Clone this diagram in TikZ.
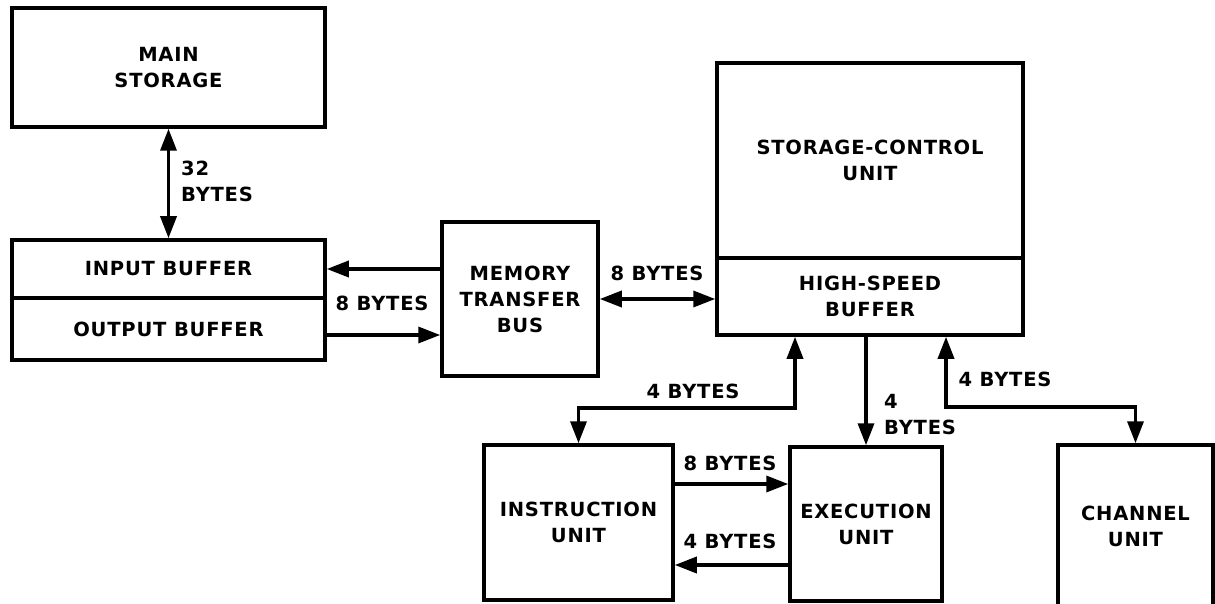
\documentclass[tikz,border=0pt]{standalone}
\usepackage{fontspec}
\setmainfont{DejaVu Sans}[LetterSpace=4]
\usetikzlibrary{arrows.meta,calc}
\newcommand\dlabel{\fontsize{19.5}{26}\selectfont\bfseries}
\begin{document}
\begin{tikzpicture}[x=1pt,y=-1pt,
  box/.style={draw, line width=3.5pt, inner sep=0pt, align=center, font=\dlabel},
  conn/.style={line width=3.5pt, -{Triangle[length=22pt,width=16pt]}},
  both/.style={line width=3.5pt, {Triangle[length=22pt,width=16pt]}-{Triangle[length=22pt,width=16pt]}},
  lab/.style={font=\dlabel, inner sep=0pt, align=left}]
\useasboundingbox (0,0) rectangle (1215,604);
% boxes
\node[box, minimum width=313pt, minimum height=119pt] (ms) at (168.5,67.5) {MAIN\\STORAGE};
\node[box, minimum width=313pt, minimum height=58pt] (ib) at (168.5,269) {INPUT BUFFER};
\node[box, minimum width=313pt, minimum height=62pt] (ob) at (168.5,329) {OUTPUT BUFFER};
\node[box, minimum width=156pt, minimum height=154pt] (bus) at (520,299) {MEMORY\\TRANSFER\\BUS};
\node[box, minimum width=306pt, minimum height=195pt] (scu) at (870,160.5) {STORAGE-CONTROL\\UNIT};
\node[box, minimum width=306pt, minimum height=77pt] (hsb) at (870,296.5) {HIGH-SPEED\\BUFFER};
\node[box, minimum width=189pt, minimum height=155pt] (iu) at (578.5,522.5) {INSTRUCTION\\UNIT};
\node[box, minimum width=152pt, minimum height=154pt] (eu) at (866,524) {EXECUTION\\UNIT};
\node[box, minimum width=155pt, minimum height=162pt] (cu) at (1135.5,526) {CHANNEL\\UNIT};
% helper coordinates
\coordinate (o1) at ($(ob.east)+(0,6)$);
\coordinate (j1) at (795,408);
\coordinate (j2) at (946,407);
\coordinate (k1) at ($(iu.east)+(0,-38.5)$);
\coordinate (k2) at ($(iu.east)+(0,42.5)$);
% connectors
\draw[both] (ms.south) -- (ib.north);
\draw[conn] (bus.west |- ib.center) -- (ib.east);
\draw[conn] (o1) -- (o1 -| bus.west);
\draw[both] (bus.east) -- (bus.east -| hsb.west);
\draw[both] (hsb.south -| j1) -- (j1) -| (iu.north);
\draw[conn] (hsb.south -| eu.north) -- (eu.north);
\draw[both] (hsb.south -| j2) -- (j2) -| (cu.north);
\draw[conn] (k1) -- (k1 -| eu.west);
\draw[conn] (k2 -| eu.west) -- (k2);
% labels
\node[lab, anchor=west] (l32) at (181,181) {32\\BYTES};
\node[lab] (l8a) at (382,303) {8 BYTES};
\node[lab] (l8b) at (657,273) {8 BYTES};
\node[lab] (l4a) at (693,391) {4 BYTES};
\node[lab, anchor=west] (l4b) at (884,415) {4\\BYTES};
\node[lab] (l4c) at (1005,379) {4 BYTES};
\node[lab] (l8c) at (730,463) {8 BYTES};
\node[lab] (l4d) at (730,541) {4 BYTES};
\end{tikzpicture}
\end{document}
